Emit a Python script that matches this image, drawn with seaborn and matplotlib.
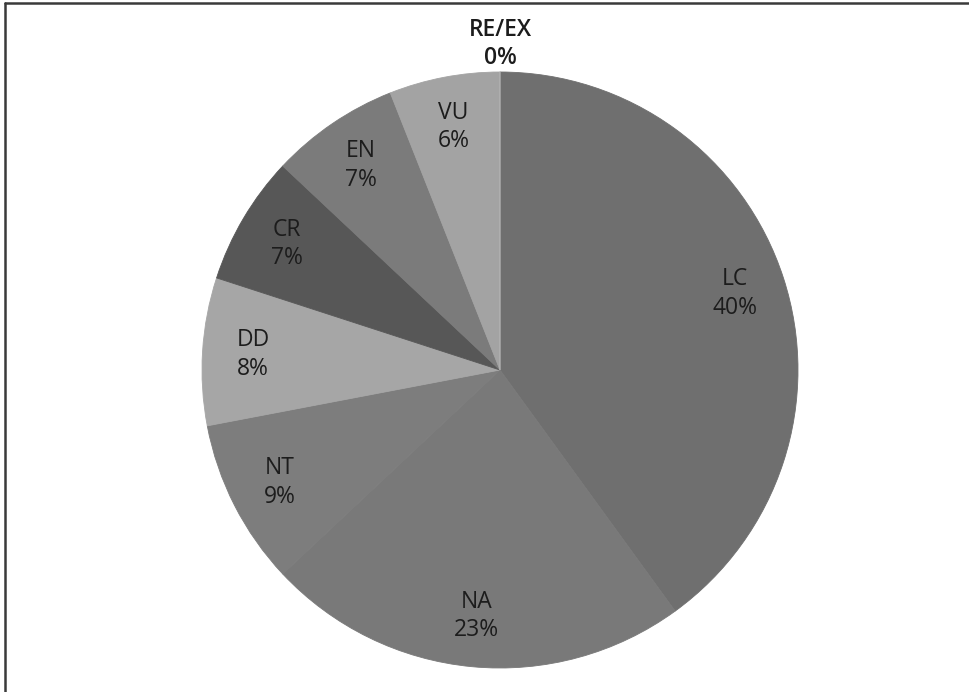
import numpy as np
import matplotlib
matplotlib.use("Agg")
import matplotlib.pyplot as plt
from matplotlib.lines import Line2D
import seaborn as sns

# Threat status categories (clockwise from 12 o'clock) and their shares, in %
categories = ["LC", "NA", "NT", "DD", "CR", "EN", "VU", "RE/EX"]
shares = [40, 23, 9, 8, 7, 7, 6, 0]
pct_labels = ["40%", "23%", "9%", "8%", "7%", "7%", "6%", "0%"]
slice_colors = ["#6f6f6f", "#797979", "#7d7d7d", "#a6a6a6",
                "#575757", "#7b7b7b", "#a3a3a3", "#bfbfbf"]

sns.set_theme(style="white")
plt.rcParams["font.family"] = ["Open Sans", "DejaVu Sans"]

W, H = 969, 692
fig = plt.figure(figsize=(W / 100, H / 100), dpi=100)
fig.patch.set_facecolor("white")

cx, cy, r = 500, 370, 298
ax = fig.add_axes([(cx - r) / W, (H - cy - r) / H, 2 * r / W, 2 * r / H])

wedges, _ = ax.pie(shares, colors=slice_colors, startangle=90,
                   counterclock=False, radius=1.0)
for w, c in zip(wedges, slice_colors):
    w.set_edgecolor(c)
    w.set_linewidth(0.6)
ax.set_xlim(-1, 1)
ax.set_ylim(-1, 1)
ax.set_aspect("equal")
ax.axis("off")

for w, cat, pct, val in zip(wedges, categories, pct_labels, shares):
    mid = np.deg2rad((w.theta1 + w.theta2) / 2)
    dist = 0.83 if val > 0 else 1.094
    x, y = dist * np.cos(mid), dist * np.sin(mid)
    ax.text(x, y, f"{cat}\n{pct}", ha="center", va="center",
            fontsize=16.5, color="#1c1c1c", linespacing=1.25,
            fontweight="semibold" if val == 0 else "normal")

# thin frame on the top and left edges
fig.add_artist(Line2D([5 / W, 5 / W], [0, 1 - 3 / H], transform=fig.transFigure,
                      color="#3a3a3a", linewidth=1.8))
fig.add_artist(Line2D([5 / W, 1], [1 - 3 / H, 1 - 3 / H], transform=fig.transFigure,
                      color="#3a3a3a", linewidth=1.8))

fig.savefig("out.png", dpi=100, facecolor="white")
